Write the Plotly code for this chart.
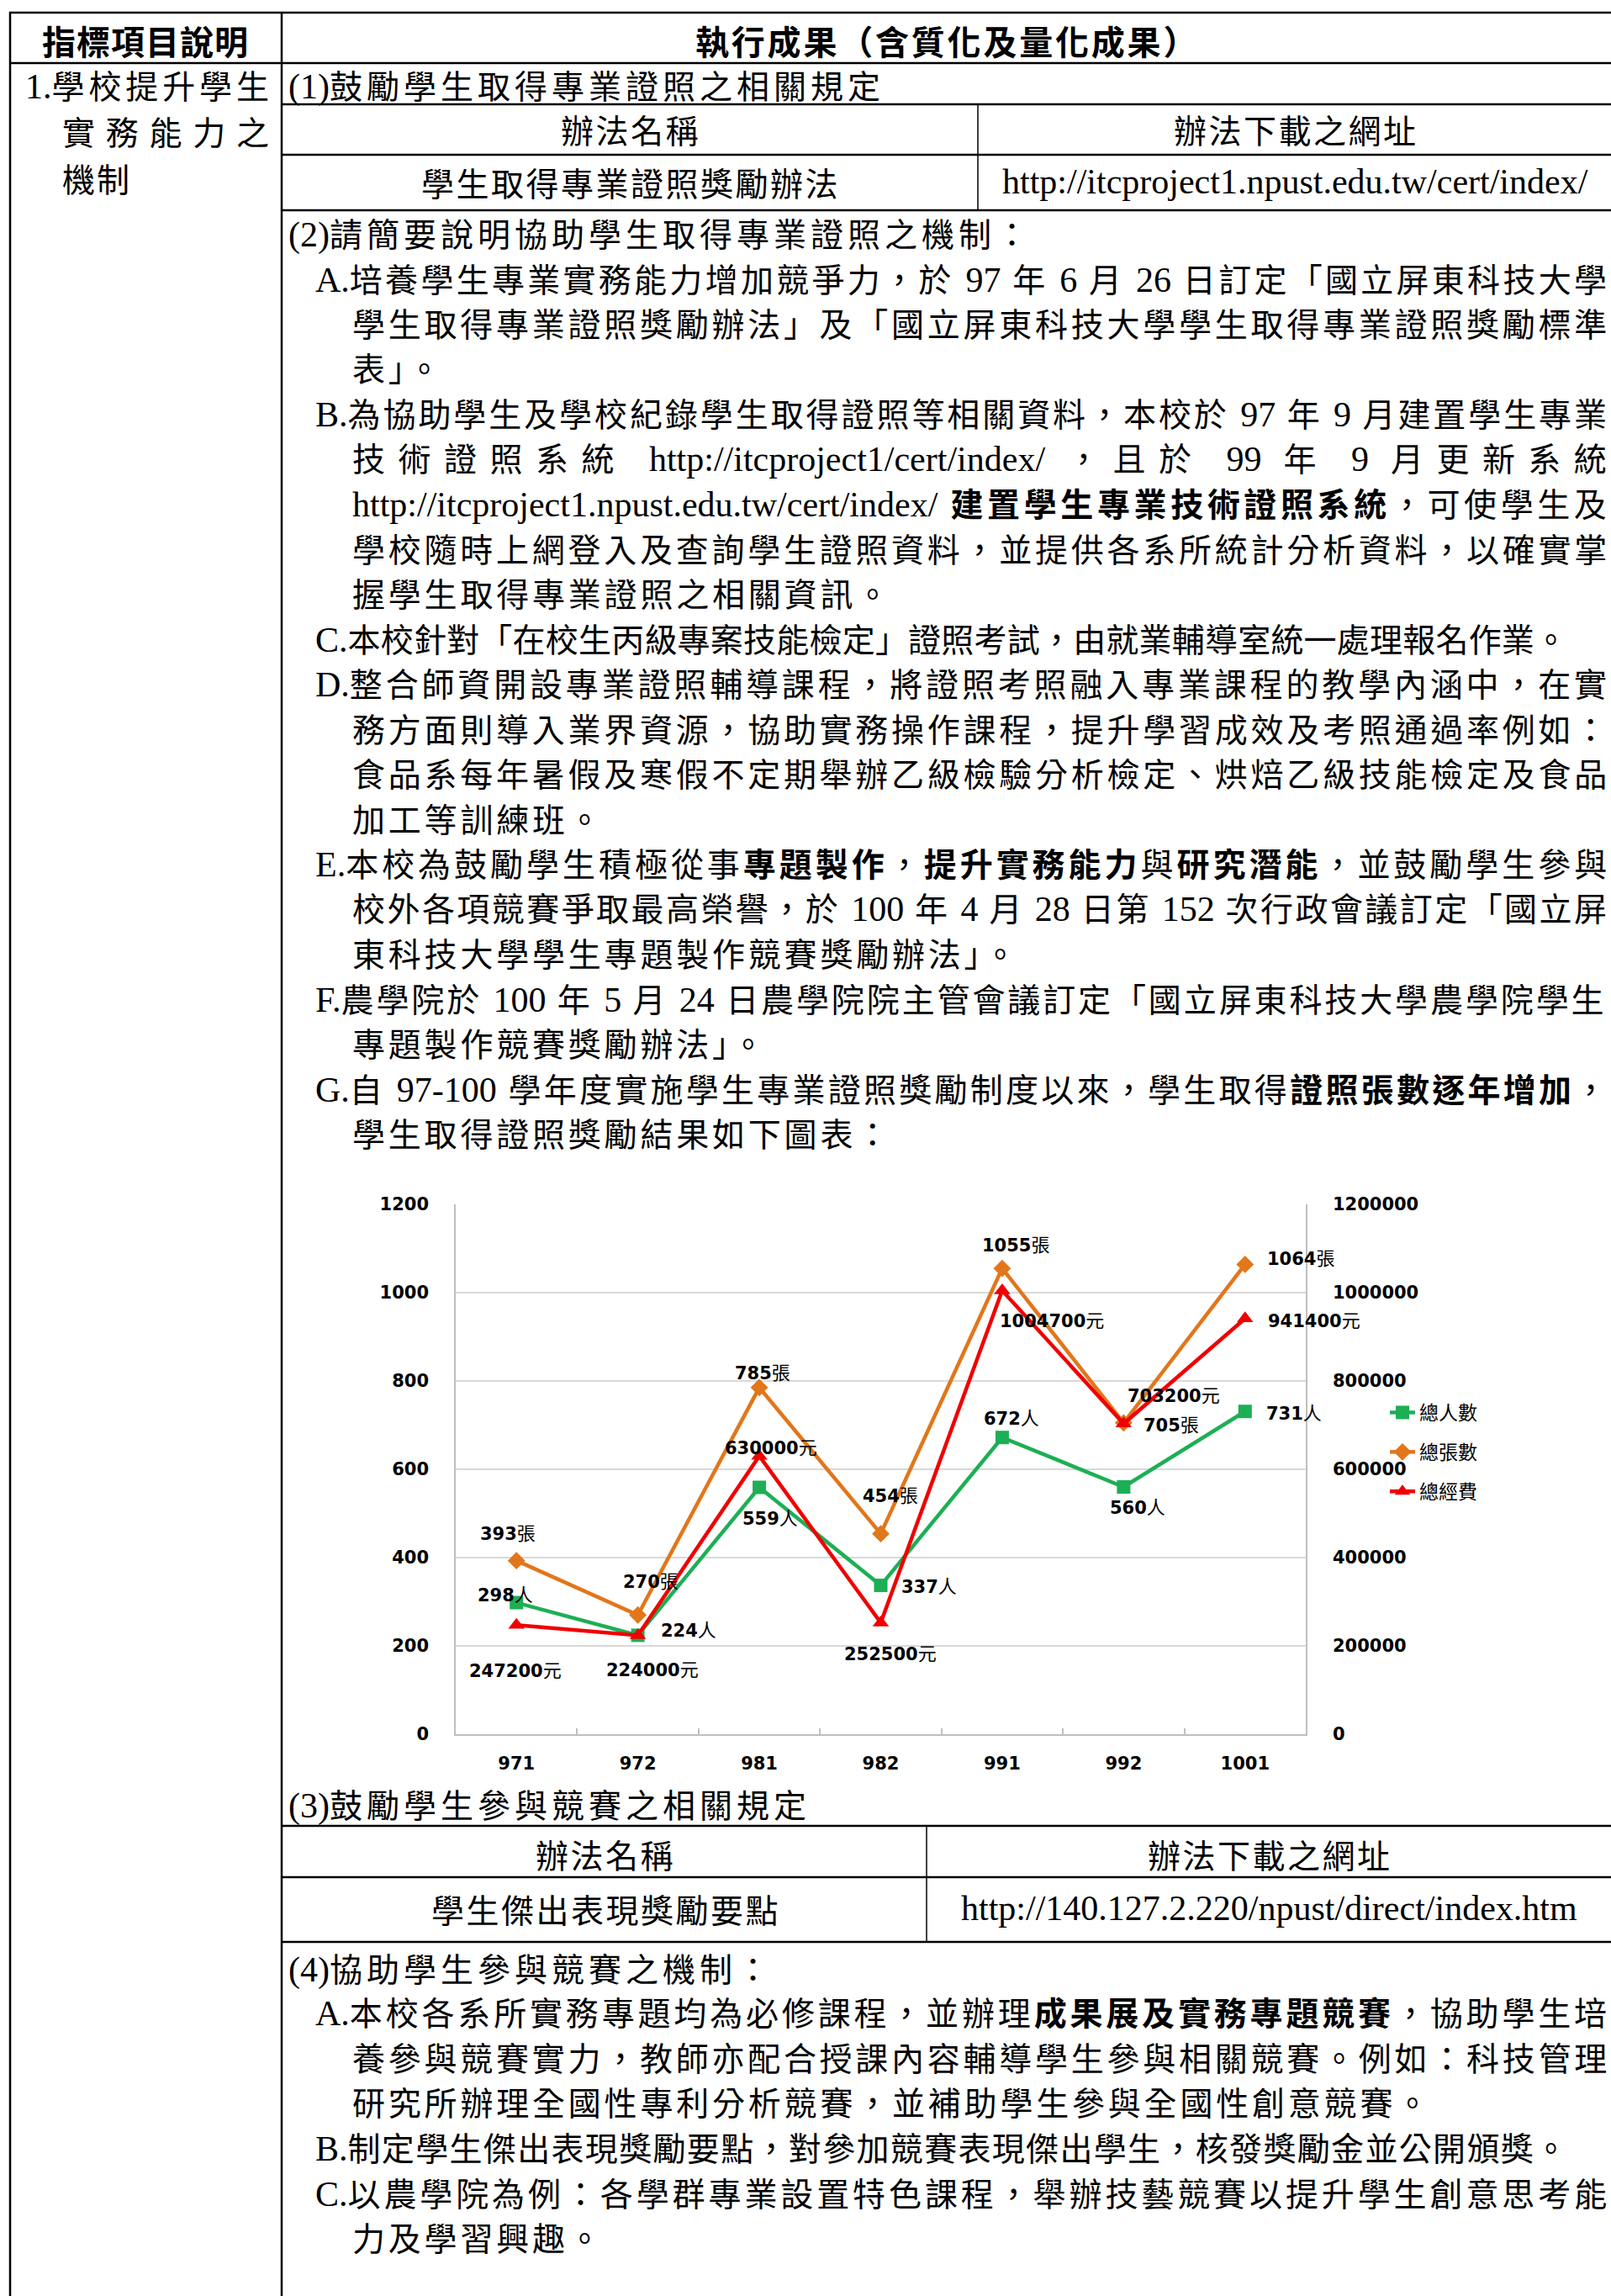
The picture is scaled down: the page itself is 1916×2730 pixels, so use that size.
import plotly.graph_objects as go

W, H = 1916, 2730

# ---------------- chart data ----------------
years = ["971", "972", "981", "982", "991", "992", "1001"]
people = [298, 224, 559, 337, 672, 560, 731]          # 總人數
certs = [393, 270, 785, 454, 1055, 705, 1064]         # 總張數
funds = [247200, 224000, 630000, 252500, 1004700, 703200, 941400]  # 總經費
left_ticks = [0, 200, 400, 600, 800, 1000, 1200]
right_ticks = [0, 200000, 400000, 600000, 800000, 1000000, 1200000]
series_names = ["總人數", "總張數", "總經費"]
units = ["人", "張", "元"]

# label offsets in pixels (xshift, yshift)
people_off = [(-13, 12), (60, 8), (13, -34), (57, 1), (11, 25), (17, -22), (58, 0)]
certs_off = [(-10, 35), (15, 42), (4, 20), (11, 48), (16, 30), (57, 0), (66, 9)]
funds_off = [(-1, -52), (17, -39), (14, 12), (11, -35), (59, -33), (60, 36), (82, 0)]

# ---------------- document text ----------------
header_left = "指標項目說明"
header_right = "執行成果（含質化及量化成果）"
left_col = ["1.學校提升學生", "實務能力之", "機制"]

body_lines = [
    ("(1)鼓勵學生取得專業證照之相關規定", "h", 102, False),
    ("(2)請簡要說明協助學生取得專業證照之機制：", "h", 278, False),
    ("A.培養學生專業實務能力增加競爭力，於 97 年 6 月 26 日訂定「國立屏東科技大學", "a", 331.5, True),
    ("學生取得專業證照獎勵辦法」及「國立屏東科技大學學生取得專業證照獎勵標準", "c", 385, True),
    ("表」。", "c", 438.5, False),
    ("B.為協助學生及學校紀錄學生取得證照等相關資料，本校於 97 年 9 月建置學生專業", "a", 492, True),
    ("技術證照系統 http://itcproject1/cert/index/ ，且於 99 年 9 月更新系統", "c", 545.5, True),
    ("http://itcproject1.npust.edu.tw/cert/index/ <b>建置學生專業技術證照系統</b>，可使學生及", "c", 599, True),
    ("學校隨時上網登入及查詢學生證照資料，並提供各系所統計分析資料，以確實掌", "c", 652.5, True),
    ("握學生取得專業證照之相關資訊。", "c", 706, False),
    ("C.本校針對「在校生丙級專案技能檢定」證照考試，由就業輔導室統一處理報名作業。", "a", 759.5, False),
    ("D.整合師資開設專業證照輔導課程，將證照考照融入專業課程的教學內涵中，在實", "a", 813, True),
    ("務方面則導入業界資源，協助實務操作課程，提升學習成效及考照通過率例如：", "c", 866.5, True),
    ("食品系每年暑假及寒假不定期舉辦乙級檢驗分析檢定、烘焙乙級技能檢定及食品", "c", 920, True),
    ("加工等訓練班。", "c", 973.5, False),
    ("E.本校為鼓勵學生積極從事<b>專題製作</b>，<b>提升實務能力</b>與<b>研究潛能</b>，並鼓勵學生參與", "a", 1027, True),
    ("校外各項競賽爭取最高榮譽，於 100 年 4 月 28 日第 152 次行政會議訂定「國立屏", "c", 1080.5, True),
    ("東科技大學學生專題製作競賽獎勵辦法」。", "c", 1134, False),
    ("F.農學院於 100 年 5 月 24 日農學院院主管會議訂定「國立屏東科技大學農學院學生", "a", 1187.5, True),
    ("專題製作競賽獎勵辦法」。", "c", 1241, False),
    ("G.自 97-100 學年度實施學生專業證照獎勵制度以來，學生取得<b>證照張數逐年增加</b>，", "a", 1294.5, True),
    ("學生取得證照獎勵結果如下圖表：", "c", 1348, False),
    ("(3)鼓勵學生參與競賽之相關規定", "h", 2146, False),
    ("(4)協助學生參與競賽之機制：", "h", 2341, False),
    ("A.本校各系所實務專題均為必修課程，並辦理<b>成果展及實務專題競賽</b>，協助學生培", "a", 2393, True),
    ("養參與競賽實力，教師亦配合授課內容輔導學生參與相關競賽。例如：科技管理", "c", 2447, True),
    ("研究所辦理全國性專利分析競賽，並補助學生參與全國性創意競賽。", "c", 2500, False),
    ("B.制定學生傑出表現獎勵要點，對參加競賽表現傑出學生，核發獎勵金並公開頒獎。", "a", 2554, False),
    ("C.以農學院為例：各學群專業設置特色課程，舉辦技藝競賽以提升學生創意思考能", "a", 2608, True),
    ("力及學習興趣。", "c", 2661, False),
]

table1_cells = [("辦法名稱", "辦法下載之網址"),
                ("學生取得專業證照獎勵辦法", "http://itcproject1.npust.edu.tw/cert/index/")]
table2_cells = [("辦法名稱", "辦法下載之網址"),
                ("學生傑出表現獎勵要點", "http://140.127.2.220/npust/direct/index.htm")]

# ---------------- helpers ----------------
CJK = "Noto Sans CJK TC"
LAT = "Liberation Serif"
CJK_PX = 39
LAT_PX = 42
GRID_SP = 3.8        # extra spacing of the document character grid
Y_ADJ = -2           # small vertical correction of text boxes

TIMES = {' ': .25, '.': .25, ':': .278, '/': .278, '-': .333, '(': .333, ')': .333}
for d in "0123456789":
    TIMES[d] = .5
TIMES.update(dict(zip("abcdefghijklmnopqrstuvwxyz",
                      [.444, .5, .444, .5, .444, .333, .5, .5, .278, .278, .5, .278, .778,
                       .5, .5, .5, .5, .333, .389, .278, .5, .5, .722, .5, .5, .444])))
TIMES.update({'A': .722, 'B': .667, 'C': .667, 'D': .722, 'E': .611, 'F': .556, 'G': .722})


def is_cjk(ch):
    return ord(ch) >= 0x2E80


def rich(line, width=None, bold_all=False, cjk_px=CJK_PX, lat_px=LAT_PX, base_sp=GRID_SP,
         max_width=None):
    toks = []
    bold = bold_all
    i = 0
    while i < len(line):
        if line.startswith("<b>", i):
            bold = True
            i += 3
        elif line.startswith("</b>", i):
            bold = bold_all
            i += 4
        else:
            toks.append((line[i], bold))
            i += 1
    natural = 0.0
    slots = 0
    for k, (ch, b) in enumerate(toks):
        if is_cjk(ch):
            natural += cjk_px
        else:
            natural += TIMES.get(ch, .5) * lat_px
        if (is_cjk(ch) or ch == ' ') and k < len(toks) - 1:
            slots += 1
    sp = base_sp
    if slots > 0:
        if width is not None:
            sp = max(0.0, (width - natural) / slots)
        elif max_width is not None:
            sp = max(0.0, min(base_sp, (max_width - natural) / slots))
    groups = []
    n = len(toks)
    for k, (ch, b) in enumerate(toks):
        c = is_cjk(ch)
        spaced = (c or ch == ' ') and k < n - 1
        key = (c, spaced, b)
        if groups and groups[-1][0] == key:
            groups[-1][1] += ch
        else:
            groups.append([key, ch])
    out = []
    for (c, spaced, b), txt in groups:
        st = "font-family:%s;font-size:%dpx;" % (CJK if c else LAT, cjk_px if c else lat_px)
        if b:
            st += "font-weight:bold;"
        if spaced and sp > 0:
            st += "letter-spacing:%.2fpx;" % sp
        out.append('<span style="%s">%s</span>' % (st, txt))
    return "".join(out)


def px(x):
    return x / W


def py(y):
    return 1 - y / H


annotations = []


def text_at(txt, x, y, anchor="left"):
    annotations.append(dict(text=txt, x=px(x), y=py(y + Y_ADJ), xref="paper", yref="paper",
                            xanchor=anchor, yanchor="middle", showarrow=False,
                            font=dict(family=CJK, size=CJK_PX, color="black")))


# header
text_at(rich(header_left, bold_all=True, cjk_px=40, base_sp=1), 172, 50, "center")
text_at(rich(header_right, bold_all=True, cjk_px=40, base_sp=2.8), 1125, 50, "center")
# left column
text_at(rich(left_col[0], width=318 - 28), 28, 102)
text_at(rich(left_col[1], width=318 - 72), 72, 157)
text_at(rich(left_col[2], base_sp=2), 72, 213)

RIGHT_EDGE = 1909
LIMIT_EDGE = 1862
x_starts = {"h": 341, "a": 373, "c": 417}
for line, kind, y, just in body_lines:
    x0 = x_starts[kind]
    if just:
        text_at(rich(line, width=RIGHT_EDGE - x0), x0, y)
    else:
        sp = 5.0 if kind == "h" else GRID_SP
        text_at(rich(line, max_width=LIMIT_EDGE - x0, base_sp=sp), x0, y)

# sub tables
for (a, b), y in zip(table1_cells, [155, 218]):
    text_at(rich(a, base_sp=2.5), 749, y, "center")
    text_at(rich(b, base_sp=2.5), 1540, y, "center")
for (a, b), y in zip(table2_cells, [2206, 2271]):
    text_at(rich(a, base_sp=2.5), 719, y, "center")
    text_at(rich(b, base_sp=2.5), 1509, y, "center")

# table lines
shapes = []


def hline(y, x0, x1, w=2.5):
    shapes.append(dict(type="line", xref="paper", yref="paper", x0=px(x0), x1=px(x1),
                       y0=py(y), y1=py(y), line=dict(color="black", width=w)))


def vline(x, y0, y1, w=2.5):
    shapes.append(dict(type="line", xref="paper", yref="paper", x0=px(x), x1=px(x),
                       y0=py(y0), y1=py(y1), line=dict(color="black", width=w)))


hline(15, 11, W)
hline(75, 11, W)
vline(12, 14, H)
vline(335, 14, H)
for y in [124, 184, 250, 2171, 2232, 2309]:
    hline(y, 335, W)
vline(1163, 124, 250, 1.5)
vline(1102, 2171, 2309, 1.5)

# ---------------- chart ----------------
GREEN, ORANGE, RED = "#1DAF55", "#E2761B", "#F00000"
fig = go.Figure()
fig.add_trace(go.Scatter(x=years, y=people, name=series_names[0], mode="lines+markers",
                         line=dict(color=GREEN, width=4.5), legendgroup="g1",
                         marker=dict(symbol="square", size=16, color=GREEN)))
fig.add_trace(go.Scatter(x=years, y=certs, name=series_names[1], mode="lines+markers",
                         line=dict(color=ORANGE, width=4.5), legendgroup="g2",
                         marker=dict(symbol="diamond", size=16, color=ORANGE)))
fig.add_trace(go.Scatter(x=years, y=funds, name=series_names[2], mode="lines+markers",
                         line=dict(color=RED, width=4.5), legendgroup="g3", yaxis="y2",
                         marker=dict(symbol="triangle-up", size=17, color=RED)))

LBL_FONT = "DejaVu Sans"


def label(v, unit):
    return ('<span style="font-family:%s;font-weight:bold;font-size:21px;">%s</span>'
            '<span style="font-family:%s;font-size:22px;">%s</span>' % (LBL_FONT, v, CJK, unit))


for vals, offs, unit, yr in [(people, people_off, units[0], "y"),
                             (certs, certs_off, units[1], "y"),
                             (funds, funds_off, units[2], "y2")]:
    for idx, (v, (dx, dy)) in enumerate(zip(vals, offs)):
        annotations.append(dict(text=label(v, unit), x=idx, y=v, xref="x", yref=yr,
                                xshift=dx, yshift=dy, showarrow=False,
                                xanchor="center", yanchor="middle",
                                font=dict(family=LBL_FONT, size=21, color="black")))

GRID = "#d9d9d9"
AXL = "#bfbfbf"
TICKFONT = dict(family=LBL_FONT, size=21, color="black", weight="bold")
fig.update_layout(
    template="none",
    width=W, height=H, autosize=False,
    margin=dict(l=0, r=0, t=0, b=0, pad=0, autoexpand=False),
    paper_bgcolor="white", plot_bgcolor="white",
    xaxis=dict(domain=[px(542), px(1553)], type="category", categoryorder="array",
               categoryarray=years, range=[-0.5, 6.5], showgrid=False, zeroline=False,
               showline=True, linecolor=AXL, linewidth=1.5, tickson="boundaries",
               ticks="inside", ticklen=7, tickcolor=AXL, tickwidth=1.5,
               ticklabelstandoff=15, automargin=False,
               tickfont=TICKFONT, anchor="y", fixedrange=True),
    yaxis=dict(domain=[py(2062), py(1432)], range=[0, 1200], tickvals=left_ticks,
               tickformat="d",
               showgrid=True, gridcolor=GRID, gridwidth=1.5, zeroline=False,
               showline=True, linecolor=AXL, linewidth=1.5, ticks="",
               ticklabelstandoff=26, automargin=False,
               tickfont=TICKFONT, anchor="x"),
    yaxis2=dict(overlaying="y", side="right", range=[0, 1200000], tickvals=right_ticks,
                tickformat="d",
                showgrid=False, zeroline=False, showline=True, linecolor=AXL,
                linewidth=1.5, ticks="", ticklabelstandoff=26, anchor="x",
                automargin=False, tickfont=TICKFONT),
    showlegend=True,
    legend=dict(x=px(1648), y=py(1658), xanchor="left", yanchor="top",
                font=dict(family=CJK, size=23, color="black"), tracegroupgap=14,
                bgcolor="rgba(0,0,0,0)", borderwidth=0, traceorder="grouped"),
    annotations=annotations,
    shapes=shapes,
)

fig.write_html("out.html", config={"displayModeBar": False},
               post_script="document.body.style.margin='0';document.body.style.overflow='hidden';")
